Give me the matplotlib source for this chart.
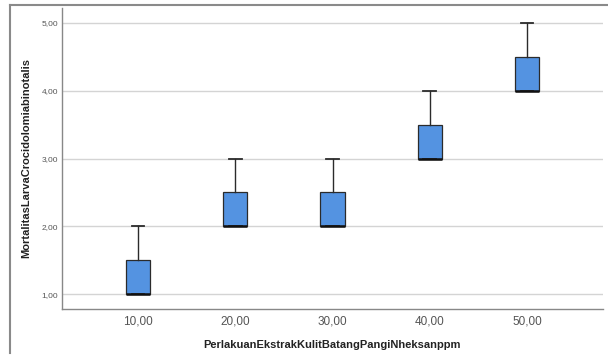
import matplotlib

matplotlib.use("Agg")

import matplotlib.pyplot as plt
from matplotlib.lines import Line2D

plt.rcParams["font.family"] = ["Liberation Sans", "DejaVu Sans"]

categories = ["10,00", "20,00", "30,00", "40,00", "50,00"]
mins = [1.0, 2.0, 2.0, 3.0, 4.0]
q1s = [1.0, 2.0, 2.0, 3.0, 4.0]
medians = [1.0, 2.0, 2.0, 3.0, 4.0]
q3s = [1.5, 2.5, 2.5, 3.5, 4.5]
maxs = [2.0, 3.0, 3.0, 4.0, 5.0]
yticks = [1, 2, 3, 4, 5]
ytick_labels = ["1,00", "2,00", "3,00", "4,00", "5,00"]

stats = []
for lo, a, m, b, hi in zip(mins, q1s, medians, q3s, maxs):
    stats.append({"whislo": lo, "q1": a, "med": m, "q3": b, "whishi": hi, "fliers": []})

fig = plt.figure(figsize=(6.08, 3.55), dpi=100)
ax = fig.add_axes([62 / 608, 1 - 309 / 355, (603 - 62) / 608, (309 - 8) / 355])

ax.bxp(
    stats,
    positions=range(len(categories)),
    widths=0.25,
    patch_artist=True,
    showfliers=False,
    boxprops=dict(facecolor="#5493e1", edgecolor="#2b2b2b", linewidth=0.9),
    medianprops=dict(color="#111111", linewidth=1.8),
    whiskerprops=dict(color="#2b2b2b", linewidth=1.0),
    capprops=dict(color="#2b2b2b", linewidth=1.3),
    capwidths=0.13,
    zorder=3,
)

ax.set_xlim(-0.78, 4.78)
ax.set_ylim(0.78, 5.22)
ax.set_xticks(range(len(categories)))
ax.set_xticklabels(categories, fontsize=8.5, color="#555555")
ax.set_yticks(yticks)
ax.set_yticklabels(ytick_labels, fontsize=6, color="#555555")
ax.tick_params(axis="x", length=0, pad=5)
ax.tick_params(axis="y", length=0, pad=3)
ax.yaxis.grid(True, color="#d4d4d4", linewidth=1.0, zorder=0)
ax.set_axisbelow(True)

for side in ["top", "right"]:
    ax.spines[side].set_visible(False)
for side in ["left", "bottom"]:
    ax.spines[side].set_color("#888888")
    ax.spines[side].set_linewidth(1.0)

ax.set_xlabel("PerlakuanEkstrakKulitBatangPangiNheksanppm", fontsize=8, fontweight="bold",
              color="#222222", labelpad=9)
ax.set_ylabel("MortalitasLarvaCrocidolomiabinotalis", fontsize=8, fontweight="bold",
              color="#222222", labelpad=7)

# outer frame (top and left edges visible)
fig.add_artist(Line2D([10 / 608, 10 / 608], [1 - 353 / 355, 1 - 5 / 355], color="#8a8a8a",
                      linewidth=1.5, transform=fig.transFigure))
fig.add_artist(Line2D([10 / 608, 1], [1 - 5 / 355, 1 - 5 / 355], color="#8a8a8a",
                      linewidth=1.5, transform=fig.transFigure))

plt.savefig("out.png", dpi=100)
